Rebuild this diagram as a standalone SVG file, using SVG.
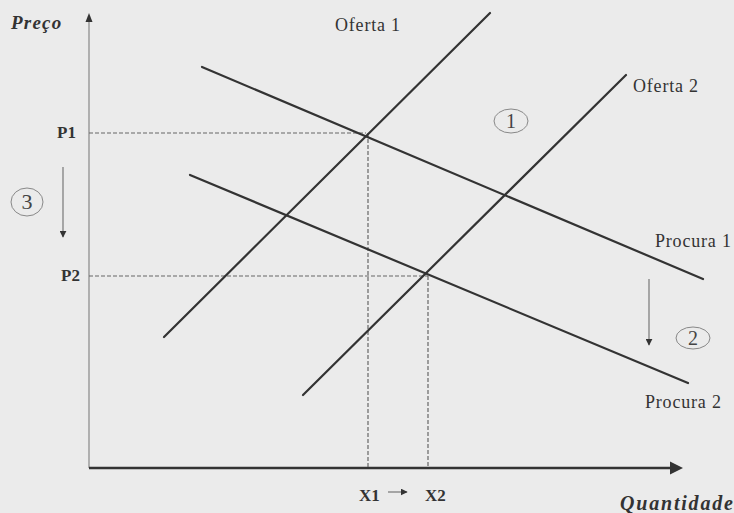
<svg xmlns="http://www.w3.org/2000/svg" width="734" height="513" viewBox="0 0 734 513">
  <style>
    .curve { stroke: #333; stroke-width: 2.2; fill: none; stroke-linecap: round; }
    .dash { stroke: #666; stroke-width: 1.2; stroke-dasharray: 4 2; fill: none; }
    .lbl { font-family: "Liberation Serif", "Times New Roman", serif; fill: #333; font-size: 18px; letter-spacing: 0.8px; }
    .bold { font-weight: bold; font-size: 17px; letter-spacing: 0; }
    .ital { font-style: italic; font-weight: bold; }
    .circ { fill: none; stroke: #888; stroke-width: 1; }
    .num { font-family: "Liberation Serif", "Times New Roman", serif; fill: #444; font-size: 20px; text-anchor: middle; }
    .shift { stroke: #777; stroke-width: 1.2; fill: none; }
  </style>
  <defs>
    <marker id="ah" viewBox="0 0 10 10" refX="9" refY="5" markerWidth="7" markerHeight="7" markerUnits="userSpaceOnUse" orient="auto">
      <path d="M0,0 L10,5 L0,10 Z" fill="#333"/>
    </marker>
  </defs>
  <rect width="734" height="513" fill="#ebebeb"/>

  <g id="axes">
    <line x1="89" y1="20" x2="89" y2="468" stroke="#888" stroke-width="1.2"/>
    <path d="M89,13 L85.5,22 L92.5,22 Z" fill="#333"/>
    <line x1="89" y1="468" x2="672" y2="468" stroke="#333" stroke-width="2.5"/>
    <path d="M683,468 L670,461.5 L670,474.5 Z" fill="#333"/>
  </g>

  <g id="guides">
    <line class="dash" x1="89" y1="133" x2="366" y2="133"/>
    <line class="dash" x1="368" y1="133" x2="368" y2="467"/>
    <line class="dash" x1="89" y1="276" x2="428" y2="276"/>
    <line class="dash" x1="428" y1="276" x2="428" y2="467"/>
  </g>

  <g id="connectors">
    <line id="oferta1-line" class="curve" x1="164" y1="337" x2="490" y2="13"/>
    <line id="oferta2-line" class="curve" x1="303" y1="395" x2="626" y2="75"/>
    <line id="procura1-line" class="curve" x1="202" y1="67" x2="703" y2="279"/>
    <line id="procura2-line" class="curve" x1="190" y1="175" x2="688" y2="383"/>
    <line class="shift" x1="63" y1="167" x2="63" y2="237" marker-end="url(#ah)"/>
    <line class="shift" x1="649" y1="279" x2="649" y2="345" marker-end="url(#ah)"/>
    <line class="shift" x1="388" y1="492" x2="407" y2="492" marker-end="url(#ah)"/>
  </g>

  <g id="axis-labels">
    <text class="lbl ital" x="11" y="29" style="font-size:19px;letter-spacing:1.2px">Preço</text>
    <text class="lbl ital" x="620" y="510" style="font-size:20px;letter-spacing:1.8px">Quantidade</text>
  </g>

  <g id="price-labels">
    <text class="lbl bold" x="57" y="138">P1</text>
    <text class="lbl bold" x="61" y="281">P2</text>
  </g>

  <g id="quantity-labels">
    <text class="lbl bold" x="359" y="501">X1</text>
    <text class="lbl bold" x="425" y="501">X2</text>
  </g>

  <g id="oferta1"><text class="lbl" x="335" y="31">Oferta 1</text></g>
  <g id="oferta2"><text class="lbl" x="633" y="92">Oferta 2</text></g>
  <g id="procura1"><text class="lbl" x="655" y="247">Procura 1</text></g>
  <g id="procura2"><text class="lbl" x="645" y="408">Procura 2</text></g>

  <g id="step1">
    <ellipse class="circ" cx="511" cy="121" rx="17" ry="12"/>
    <text class="num" x="511" y="128">1</text>
  </g>
  <g id="step2">
    <ellipse class="circ" cx="693" cy="338" rx="17" ry="11"/>
    <text class="num" x="693" y="345">2</text>
  </g>
  <g id="step3">
    <ellipse class="circ" cx="27" cy="202" rx="16" ry="14"/>
    <text class="num" x="27" y="209" style="font-size:22px">3</text>
  </g>
</svg>
